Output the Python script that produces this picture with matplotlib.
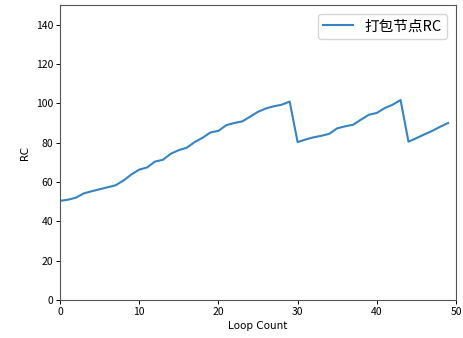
import matplotlib.pyplot as plt
import numpy as np

plt.rcParams['font.family'] = ['Noto Sans CJK SC', 'DejaVu Sans']

loop_count = np.arange(50)
rc_values = [
    50.4, 51.0, 52.0, 54.2, 55.3, 56.3, 57.3, 58.3, 60.7, 63.8,
    66.3, 67.4, 70.4, 71.3, 74.4, 76.2, 77.4, 80.3, 82.5, 85.2,
    86.0, 88.9, 90.0, 90.8, 93.2, 95.7, 97.4, 98.5, 99.3, 100.9,
    80.3, 81.6, 82.7, 83.5, 84.5, 87.3, 88.3, 89.1, 91.7, 94.2,
    95.1, 97.6, 99.3, 101.7, 80.5, 82.3, 84.2, 86.0, 88.1, 90.0,
]
series_label = "打包节点RC"


def main():
    fig = plt.figure(figsize=(4.64, 3.38), dpi=100)
    ax = fig.add_axes([60 / 464, 38 / 338, 396 / 464, 295 / 338])

    ax.plot(loop_count, rc_values, color="#3584c4", linewidth=1.5, label=series_label)

    ax.set_xlim(0, 50)
    ax.set_ylim(0, 150)
    ax.set_yticks(np.arange(0, 141, 20))
    ax.set_xlabel("Loop Count", fontsize=7.5, family="DejaVu Sans", labelpad=3)
    ax.set_ylabel("RC", fontsize=7.5, family="DejaVu Sans", labelpad=4)
    ax.tick_params(labelsize=7.5, length=3, width=0.7, pad=2)
    for s in ax.spines.values():
        s.set_linewidth(0.8)
        s.set_color("#555555")
    ax.legend(loc="upper right", fontsize=10.5, handlelength=2.0,
              borderaxespad=0.6)

    fig.savefig("out.png", dpi=100)


if __name__ == "__main__":
    main()
